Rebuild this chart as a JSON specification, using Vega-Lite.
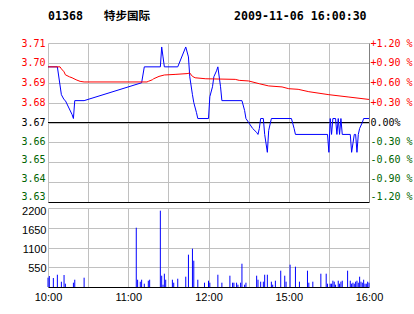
{
  "$schema": "https://vega.github.io/schema/vega-lite/v6.json",
  "padding": {"left": 20, "top": 11, "right": 0, "bottom": 0},
  "background": "white",
  "bounds": "flush",
  "spacing": 6,
  "config": {
    "view": {"stroke": null},
    "axis": {"gridColor": "#c0c0c0", "gridWidth": 1, "ticks": false, "domain": false, "title": null}
  },
  "datasets": {
    "price": [
      {"t": 0, "p": 3.698}, {"t": 7, "p": 3.698}, {"t": 10, "p": 3.684}, {"t": 12, "p": 3.6815},
      {"t": 13, "p": 3.681}, {"t": 18, "p": 3.674}, {"t": 19, "p": 3.672}, {"t": 20, "p": 3.681},
      {"t": 27, "p": 3.681}, {"t": 70, "p": 3.690}, {"t": 72, "p": 3.698}, {"t": 84, "p": 3.698},
      {"t": 85, "p": 3.708}, {"t": 86, "p": 3.703}, {"t": 87, "p": 3.698}, {"t": 97, "p": 3.698},
      {"t": 103, "p": 3.708}, {"t": 105, "p": 3.703}, {"t": 106, "p": 3.693}, {"t": 108, "p": 3.684},
      {"t": 109, "p": 3.680}, {"t": 111, "p": 3.675}, {"t": 112, "p": 3.672}, {"t": 120, "p": 3.672},
      {"t": 121, "p": 3.683}, {"t": 123, "p": 3.688}, {"t": 124, "p": 3.693}, {"t": 126, "p": 3.696},
      {"t": 127, "p": 3.698}, {"t": 129, "p": 3.688}, {"t": 130, "p": 3.681}, {"t": 145, "p": 3.681},
      {"t": 147, "p": 3.676}, {"t": 148, "p": 3.672}, {"t": 150, "p": 3.670}, {"t": 153, "p": 3.667},
      {"t": 156, "p": 3.665}, {"t": 157, "p": 3.664}, {"t": 158, "p": 3.667}, {"t": 159, "p": 3.672},
      {"t": 161, "p": 3.672}, {"t": 162, "p": 3.664}, {"t": 164, "p": 3.655}, {"t": 165, "p": 3.666},
      {"t": 167, "p": 3.672}, {"t": 182, "p": 3.672}, {"t": 184, "p": 3.667}, {"t": 185, "p": 3.664},
      {"t": 209, "p": 3.664}, {"t": 210, "p": 3.655}, {"t": 211, "p": 3.672}, {"t": 212, "p": 3.664},
      {"t": 213, "p": 3.672}, {"t": 215, "p": 3.672}, {"t": 216, "p": 3.664}, {"t": 217, "p": 3.672},
      {"t": 218, "p": 3.664}, {"t": 219, "p": 3.672}, {"t": 220, "p": 3.664}, {"t": 226, "p": 3.664},
      {"t": 227, "p": 3.655}, {"t": 229, "p": 3.664}, {"t": 230, "p": 3.664}, {"t": 231, "p": 3.655},
      {"t": 232, "p": 3.664}, {"t": 233, "p": 3.667}, {"t": 235, "p": 3.670}, {"t": 236, "p": 3.672},
      {"t": 240, "p": 3.672}
    ],
    "avg": [
      {"t": 0, "a": 3.698}, {"t": 9, "a": 3.698}, {"t": 10, "a": 3.697}, {"t": 12, "a": 3.6955},
      {"t": 13, "a": 3.694}, {"t": 16, "a": 3.693}, {"t": 18, "a": 3.6925}, {"t": 21, "a": 3.6915},
      {"t": 24, "a": 3.6907}, {"t": 27, "a": 3.6904}, {"t": 74, "a": 3.6904}, {"t": 75, "a": 3.6907},
      {"t": 78, "a": 3.6915}, {"t": 79, "a": 3.692}, {"t": 83, "a": 3.6932}, {"t": 87, "a": 3.6939},
      {"t": 95, "a": 3.6942}, {"t": 104, "a": 3.6946}, {"t": 106, "a": 3.6949}, {"t": 108, "a": 3.6932},
      {"t": 110, "a": 3.6925}, {"t": 118, "a": 3.692}, {"t": 140, "a": 3.6917}, {"t": 143, "a": 3.6912},
      {"t": 150, "a": 3.6909}, {"t": 158, "a": 3.6895}, {"t": 165, "a": 3.6884}, {"t": 175, "a": 3.6879},
      {"t": 180, "a": 3.687}, {"t": 187, "a": 3.6867}, {"t": 195, "a": 3.6855}, {"t": 210, "a": 3.684},
      {"t": 225, "a": 3.6828}, {"t": 240, "a": 3.6816}
    ],
    "vol": [
      {"t": 0, "v": 260}, {"t": 1, "v": 306}, {"t": 4, "v": 250}, {"t": 7, "v": 342}, {"t": 10, "v": 147},
      {"t": 12, "v": 334}, {"t": 13, "v": 92}, {"t": 19, "v": 120}, {"t": 20, "v": 203}, {"t": 27, "v": 259},
      {"t": 66, "v": 1651}, {"t": 67, "v": 203}, {"t": 69, "v": 147}, {"t": 70, "v": 203}, {"t": 72, "v": 92},
      {"t": 75, "v": 175}, {"t": 76, "v": 203}, {"t": 84, "v": 2125}, {"t": 85, "v": 315}, {"t": 86, "v": 64},
      {"t": 87, "v": 370}, {"t": 88, "v": 203}, {"t": 93, "v": 203}, {"t": 94, "v": 120}, {"t": 97, "v": 231},
      {"t": 103, "v": 287}, {"t": 105, "v": 900}, {"t": 108, "v": 1067}, {"t": 109, "v": 733}, {"t": 112, "v": 203},
      {"t": 117, "v": 120}, {"t": 120, "v": 175}, {"t": 121, "v": 120}, {"t": 127, "v": 342}, {"t": 130, "v": 120},
      {"t": 136, "v": 315}, {"t": 138, "v": 120}, {"t": 139, "v": 120}, {"t": 141, "v": 120}, {"t": 142, "v": 64},
      {"t": 144, "v": 120}, {"t": 145, "v": 648}, {"t": 147, "v": 64}, {"t": 148, "v": 120}, {"t": 156, "v": 315},
      {"t": 157, "v": 203}, {"t": 159, "v": 148}, {"t": 161, "v": 148}, {"t": 162, "v": 342}, {"t": 164, "v": 342},
      {"t": 167, "v": 148}, {"t": 168, "v": 64}, {"t": 170, "v": 175}, {"t": 174, "v": 454}, {"t": 177, "v": 315},
      {"t": 178, "v": 148}, {"t": 181, "v": 621}, {"t": 185, "v": 565}, {"t": 188, "v": 148}, {"t": 194, "v": 454},
      {"t": 195, "v": 120}, {"t": 198, "v": 148}, {"t": 204, "v": 370}, {"t": 208, "v": 370}, {"t": 209, "v": 92},
      {"t": 211, "v": 92}, {"t": 212, "v": 92}, {"t": 213, "v": 175}, {"t": 214, "v": 148}, {"t": 215, "v": 64},
      {"t": 217, "v": 175}, {"t": 218, "v": 92}, {"t": 219, "v": 148}, {"t": 220, "v": 175}, {"t": 224, "v": 454},
      {"t": 226, "v": 175}, {"t": 227, "v": 92}, {"t": 228, "v": 120}, {"t": 229, "v": 92}, {"t": 230, "v": 148},
      {"t": 231, "v": 175}, {"t": 232, "v": 120}, {"t": 233, "v": 287}, {"t": 234, "v": 148}, {"t": 235, "v": 120},
      {"t": 236, "v": 203}, {"t": 237, "v": 92}, {"t": 238, "v": 92}, {"t": 239, "v": 148}, {"t": 240, "v": 120}
    ]
  },
  "vconcat": [
    {
      "title": {
        "text": "01368\u00a0\u00a0\u00a0特步国际\u00a0\u00a0\u00a0\u00a0\u00a0\u00a0\u00a0\u00a0\u00a0\u00a0\u00a0\u00a02009-11-06\u00a016:00:30",
        "font": "DejaVu Sans Mono, Noto Sans CJK SC",
        "fontSize": 11.6,
        "fontWeight": "bold",
        "color": "#000000",
        "anchor": "start",
        "frame": "group",
        "offset": 15
      },
      "width": 321,
      "height": 159,
      "layer": [
        {
          "data": {"values": [{}]},
          "mark": {"type": "rule", "color": "#000000", "strokeWidth": 1},
          "encoding": {
            "y": {"datum": 3.67, "type": "quantitative", "scale": {"domain": [3.63, 3.71], "nice": false, "zero": false}, "axis": null}
          }
        },
        {
          "data": {"name": "price"},
          "mark": {"type": "line", "color": "#0000ff", "strokeWidth": 1},
          "encoding": {
            "x": {
              "field": "t", "type": "quantitative",
              "scale": {"domain": [0, 240], "nice": false, "zero": false},
              "axis": {"values": [0, 30, 60, 90, 120, 150, 180, 210, 240], "labels": false, "grid": true, "domain": true, "domainColor": "#000000"}
            },
            "y": {
              "field": "p", "type": "quantitative",
              "scale": {"domain": [3.63, 3.71], "nice": false, "zero": false},
              "axis": {
                "orient": "left",
                "values": [3.63, 3.64, 3.65, 3.66, 3.67, 3.68, 3.69, 3.70, 3.71],
                "labelExpr": "format(datum.value, '.2f')",
                "labelColor": {"expr": "datum.value > 3.6705 ? '#ff0000' : datum.value < 3.6695 ? '#006400' : '#000000'"},
                "labelOffset": {"expr": "datum.value < 3.6695 ? (datum.value - 3.67) * 130 : 0"},
                "labelFont": "DejaVu Sans Mono",
                "labelFontSize": 10,
                "labelPadding": 3,
                "grid": true
              }
            }
          }
        },
        {
          "data": {"name": "avg"},
          "mark": {"type": "line", "color": "#ff0000", "strokeWidth": 1},
          "encoding": {
            "x": {
              "field": "t", "type": "quantitative",
              "scale": {"domain": [0, 240], "nice": false, "zero": false},
              "axis": {"values": [0, 30, 60, 90, 120, 150, 180, 210, 240], "labels": false, "grid": true, "domain": true, "domainColor": "#000000"}
            },
            "y": {
              "field": "a", "type": "quantitative",
              "scale": {"domain": [3.63, 3.71], "nice": false, "zero": false},
              "axis": {
                "orient": "right",
                "values": [3.63, 3.64, 3.65, 3.66, 3.67, 3.68, 3.69, 3.70, 3.71],
                "labelExpr": "(datum.value > 3.6705 ? '+' : datum.value < 3.6695 ? '-' : '\u00a0') + format(abs(datum.value - 3.67) * 30, '.2f') + (abs(datum.value - 3.67) < 0.0005 ? '%' : '\u00a0%')",
                "labelColor": {"expr": "datum.value > 3.6705 ? '#ff0000' : datum.value < 3.6695 ? '#006400' : '#000000'"},
                "labelOffset": {"expr": "datum.value < 3.6695 ? (datum.value - 3.67) * 130 : 0"},
                "labelFont": "DejaVu Sans Mono",
                "labelFontSize": 10,
                "labelPadding": 1,
                "grid": false,
                "domain": true,
                "domainColor": "#808080"
              }
            }
          }
        }
      ],
      "resolve": {"axis": {"y": "independent"}}
    },
    {
      "data": {"name": "vol"},
      "width": 321,
      "height": 79,
      "mark": {"type": "rule", "color": "#0000ff", "strokeWidth": 1},
      "encoding": {
        "x": {
          "field": "t", "type": "quantitative",
          "scale": {"domain": [0, 240], "nice": false, "zero": false},
          "axis": {
            "values": [0, 30, 60, 90, 120, 150, 180, 210, 240],
            "labelExpr": "datum.value == 0 ? '10:00' : datum.value == 60 ? '11:00' : datum.value == 120 ? '12:00' : datum.value == 180 ? '15:00' : datum.value == 240 ? '16:00' : ''",
            "labelFont": "Liberation Sans",
            "labelFontSize": 11,
            "labelColor": "#000000",
            "labelPadding": 4,
            "labelFlush": false,
            "labelOverlap": false,
            "grid": true,
            "domain": true,
            "domainColor": "#000000"
          }
        },
        "y": {
          "field": "v", "type": "quantitative",
          "scale": {"domain": [0, 2200], "nice": false},
          "axis": {
            "values": [550, 1100, 1650, 2200],
            "format": "d",
            "labelFont": "Liberation Sans",
            "labelFontSize": 11,
            "labelColor": "#000000",
            "labelPadding": 2,
            "labelOffset": {"expr": "datum.value / 2200 * 3.4"},
            "grid": true
          }
        },
        "y2": {"datum": 0}
      }
    }
  ]
}
